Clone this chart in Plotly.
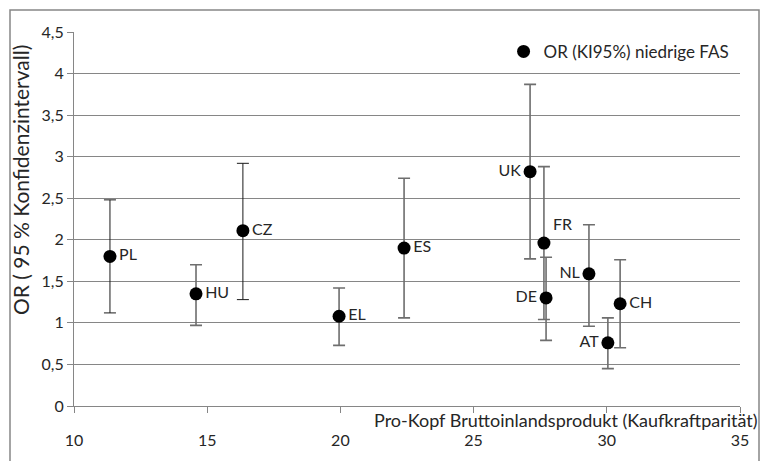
import plotly.graph_objects as go

# Country codes, per-capita GDP (PPP, thousands) and odds ratios with 95% CI
countries = ["PL", "HU", "CZ", "EL", "ES", "UK", "FR", "DE", "NL", "AT", "CH"]
gdp = [11.35, 14.58, 16.34, 19.95, 22.39, 27.12, 27.64, 27.72, 29.33, 30.04, 30.5]
odds_ratio = [1.80, 1.35, 2.11, 1.08, 1.90, 2.82, 1.96, 1.30, 1.59, 0.76, 1.23]
ci_low = [1.12, 0.97, 1.28, 0.73, 1.06, 1.77, 1.04, 0.79, 0.96, 0.45, 0.70]
ci_high = [2.48, 1.70, 2.92, 1.42, 2.74, 3.87, 2.88, 1.79, 2.18, 1.06, 1.76]
label_pos = ["middle right", "middle right", "middle right", "middle right",
             "middle right", "middle left", "top right", "middle left",
             "middle left", "middle left", "middle right"]
black_bar = ["PL", "CZ"]

x_ticks = [10, 15, 20, 25, 30, 35]
y_ticks = [0, 0.5, 1, 1.5, 2, 2.5, 3, 3.5, 4, 4.5]

FONT = "Lato, 'Open Sans', sans-serif"
GRID = "#868686"

fig = go.Figure()

# error bars, split into two colour groups
for group, colour, thick in [(False, "#6e6e6e", 1.6), (True, "#1a1a1a", 1.0)]:
    idx = [i for i, c in enumerate(countries) if (c in black_bar) == group]
    fig.add_trace(go.Scatter(
        x=[gdp[i] for i in idx],
        y=[odds_ratio[i] for i in idx],
        mode="markers",
        marker=dict(size=1, opacity=0),
        error_y=dict(
            type="data", symmetric=False,
            array=[ci_high[i] - odds_ratio[i] for i in idx],
            arrayminus=[odds_ratio[i] - ci_low[i] for i in idx],
            color=colour, thickness=thick, width=6,
        ),
        showlegend=False, hoverinfo="skip",
    ))

# point estimates with country labels
fig.add_trace(go.Scatter(
    x=gdp, y=odds_ratio,
    mode="markers+text",
    marker=dict(size=13, color="black"),
    text=countries,
    textposition=label_pos,
    textfont=dict(family=FONT, size=16, color="#262626"),
    name="OR (KI95%) niedrige FAS",
))

fig.update_layout(
    width=762, height=461,
    margin=dict(l=74, r=22, t=32, b=55),
    paper_bgcolor="white",
    plot_bgcolor="white",
    separators=",.",
    font=dict(family=FONT, color="#262626"),
    showlegend=True,
    legend=dict(
        x=0.645, y=0.995, xanchor="left", yanchor="top",
        font=dict(family=FONT, size=17, color="#262626"),
        bgcolor="rgba(0,0,0,0)", itemwidth=30,
    ),
    xaxis=dict(
        range=[10, 35], tickvals=x_ticks,
        ticktext=[str(v) for v in x_ticks],
        showgrid=False, zeroline=False,
        showline=True, linecolor=GRID, linewidth=1,
        ticks="outside", ticklen=6, tickcolor=GRID,
        tickfont=dict(family=FONT, size=16, color="#262626"),
        ticklabelstandoff=14,
    ),
    yaxis=dict(
        range=[0, 4.5], tickvals=y_ticks,
        ticktext=[f"{v:g}".replace(".", ",") for v in y_ticks],
        showgrid=True, gridcolor=GRID, gridwidth=1,
        zeroline=False,
        showline=True, linecolor=GRID, linewidth=1,
        ticks="outside", ticklen=6, tickcolor=GRID,
        tickfont=dict(family=FONT, size=16, color="#262626"),
    ),
    shapes=[dict(
        type="rect", xref="paper", yref="paper",
        x0=-64 / 666, x1=685 / 666, y0=-70 / 374, y1=396 / 374,
        line=dict(color="#868686", width=1.5),
    )],
    annotations=[
        dict(
            text="Pro-Kopf Bruttoinlandsprodukt (Kaufkraftparität)",
            xref="paper", yref="paper",
            x=686 / 666, y=-14 / 374, xanchor="right", yanchor="middle",
            showarrow=False,
            font=dict(family=FONT, size=18, color="#262626"),
        ),
        dict(
            text="OR ( 95 % Konfidenzintervall)",
            xref="paper", yref="paper",
            x=-54 / 666, y=(406 - 180) / 374, xanchor="center", yanchor="middle",
            textangle=-90, showarrow=False,
            font=dict(family=FONT, size=21, color="#262626"),
        ),
    ],
)

fig.write_html("out.html")
